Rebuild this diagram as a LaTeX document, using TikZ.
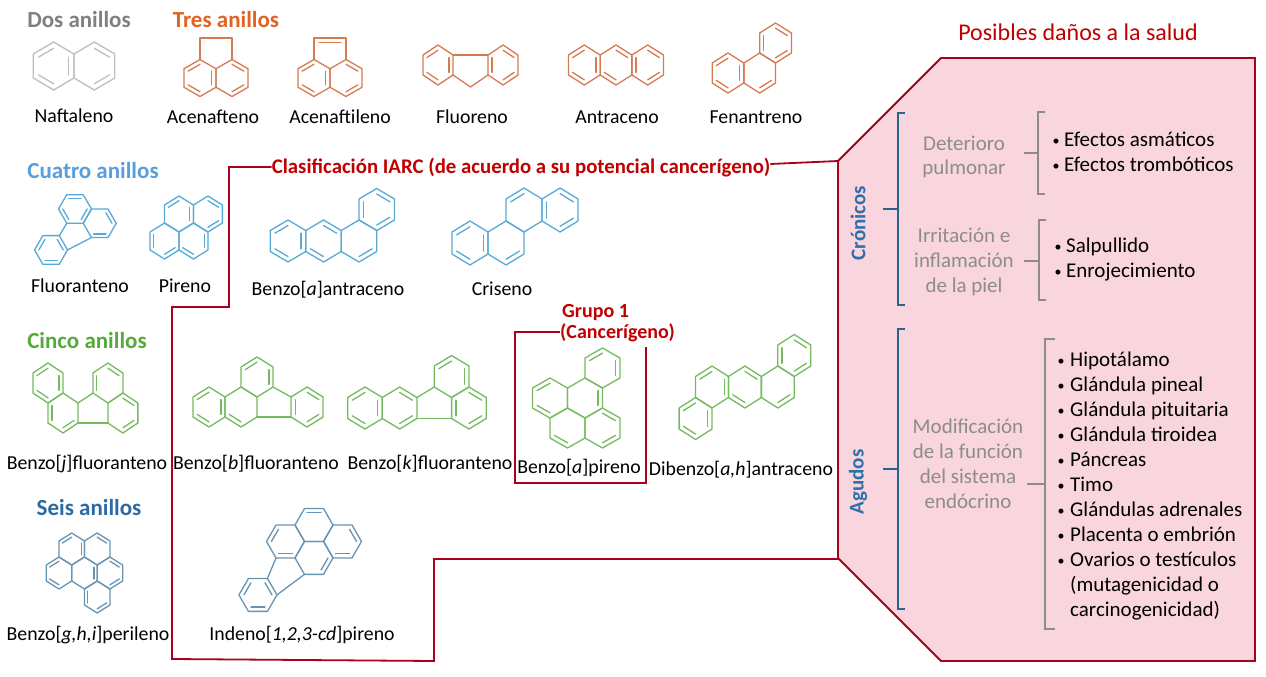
\documentclass[tikz,border=0pt]{standalone}
\usepackage{fontspec}
\setmainfont{Carlito}
\definecolor{cgray}{RGB}{190,190,190}
\definecolor{hgray}{RGB}{128,128,128}
\definecolor{corange}{RGB}{214,122,82}
\definecolor{horange}{RGB}{226,98,34}
\definecolor{cblue}{RGB}{88,170,214}
\definecolor{hblue}{RGB}{88,158,222}
\definecolor{cgreen}{RGB}{118,186,96}
\definecolor{hgreen}{RGB}{86,170,60}
\definecolor{csteel}{RGB}{104,148,180}
\definecolor{hsteel}{RGB}{44,106,164}
\definecolor{frame}{RGB}{170,0,30}
\definecolor{tred}{RGB}{192,0,0}
\definecolor{pinkc}{RGB}{249,214,222}
\definecolor{bblue}{RGB}{42,100,142}
\definecolor{tblue}{RGB}{46,112,172}
\definecolor{tgray}{RGB}{140,140,140}
\newcommand\hx[4]{%
  \draw[shift={(#1,#2)}] ({#3}:1) -- ({#3+60}:1) -- ({#3+120}:1) -- ({#3+180}:1) -- ({#3+240}:1) -- ({#3+300}:1) -- cycle;
  \foreach \e in {#4}{\draw[shift={(#1,#2)}] ({#3+60*\e}:0.74) -- ({#3+60*\e+60}:0.74);}}
\newcommand\hp[3]{\hx{{#1*0.866}}{{#2*1.5}}{30}{#3}}
\begin{document}
\begin{tikzpicture}[x=1pt,y=-1pt,
  mol/.style={line width=1.3pt,line join=round,line cap=round},
  lab/.style={font=\fontsize{19.8}{24}\selectfont,inner sep=0pt,anchor=base,text=black},
  hdr/.style={font=\fontsize{23}{27}\selectfont\bfseries,inner sep=0pt,anchor=base},
  frm/.style={draw=frame,line width=1.8pt},
  txt/.style={font=\fontsize{21}{25}\selectfont,inner sep=0pt},
  bul/.style={font=\fontsize{14}{16}\selectfont,inner sep=0pt,anchor=base},
  gtxt/.style={font=\fontsize{21}{25}\selectfont,inner sep=0pt,anchor=base,text=tgray},
  brb/.style={draw=bblue,line width=1.6pt},
  brg/.style={draw=tgray,line width=1.6pt}]
\fill[white] (0,0) rectangle (1266,677);
\useasboundingbox (0,0) rectangle (1266,677);

% ---------- headers ----------
\node[hdr,text=hgray] (h2) at (79,28) {Dos anillos};
\node[hdr,text=horange] (h3) at (226,28) {Tres anillos};
\node[hdr,text=hblue] (h4) at (93,178) {Cuatro anillos};
\node[hdr,text=hgreen] (h5) at (87,348) {Cinco anillos};
\node[hdr,text=hsteel] (h6) at (89,515) {Seis anillos};

% ---------- molecules ----------
% Naftaleno
\begin{scope}[shift={(74,66)},x=23.5pt,y=24pt,mol,color=cgray]
\hp{-1}{0}{1,3,5}\hp{1}{0}{0,4}
\end{scope}
% Acenafteno
\begin{scope}[shift={(216,78)},x=18.5pt,y=18.5pt,mol,color=corange]
\hp{-1}{0}{1,3,5}\hp{1}{0}{0,4}
\draw (-0.866,1) -- (-0.866,2.17) -- (0.866,2.17) -- (0.866,1);
\end{scope}
% Acenaftileno
\begin{scope}[shift={(330,78)},x=18.5pt,y=18.5pt,mol,color=corange]
\hp{-1}{0}{1,3,5}\hp{1}{0}{0,4}
\draw (-0.866,1) -- (-0.866,2.17) -- (0.866,2.17) -- (0.866,1);
\draw (-0.6,1.93) -- (0.6,1.93);
\end{scope}
% Fluoreno
\begin{scope}[shift={(438,65)},x=17.3pt,y=20pt,mol,color=corange]
\hp{0}{0}{1,3,5}\hx{3.76}{0}{30}{0,2,4}
\draw (0.866,0.5) -- (2.894,0.5);
\draw (0.866,-0.5) -- (1.88,-1.1) -- (2.894,-0.5);
\end{scope}
% Antraceno
\begin{scope}[shift={(616,65)},x=18.3pt,y=20pt,mol,color=corange]
\hp{-2}{0}{1,3,5}\hp{0}{0}{0,3}\hp{2}{0}{0,2,4}
\end{scope}
% Fenantreno
\begin{scope}[shift={(728,73)},x=18.3pt,y=20pt,mol,color=corange]
\hp{0}{0}{1,3,5}\hp{2}{0}{4}\hp{3}{1}{0,2,4}
\end{scope}
% Fluoranteno
\begin{scope}[shift={(75,209)},x=16.5pt,y=16.5pt,mol,color=cblue]
\hx{0}{0}{0}{1,3,5}\hx{1.5}{-0.866}{0}{0,4}\hx{-1.45}{-2.48}{0}{0,2,4}
\draw (-0.5,-0.866) -- (-0.95,-1.614);
\draw (1,-1.732) -- (-0.45,-2.48);
\end{scope}
% Pireno
\begin{scope}[shift={(179,214)},x=16.7pt,y=18pt,mol,color=cblue]
\hp{0}{0}{1,5}\hp{2}{0}{0,4}\hp{-1}{-1}{2,4}\hp{1}{-1}{3,5}
\end{scope}
% Benzo[a]antraceno
\begin{scope}[shift={(288,241)},x=20.5pt,y=21pt,mol,color=cblue]
\hp{0}{0}{1,3,5}\hp{2}{0}{0,3}\hp{4}{0}{4}\hp{5}{1}{0,2,4}
\end{scope}
% Criseno
\begin{scope}[shift={(470,243)},x=20.8pt,y=22pt,mol,color=cblue]
\hp{0}{0}{1,3,5}\hp{2}{0}{4}\hp{3}{1}{1}\hp{5}{1}{0,2,4}
\end{scope}
% Benzo[j]fluoranteno
\begin{scope}[shift={(48,383)},x=17.3pt,y=20pt,mol,color=cgreen]
\hp{0}{0}{1,3,5}\hp{1}{-1}{2,4}\hp{4}{0}{0,2}\hp{5}{-1}{0,4}
\draw (1.732,-1) -- (2.598,-0.5);
\draw (1.732,-2) -- (3.464,-2);
\end{scope}
% Benzo[b]fluoranteno
\begin{scope}[shift={(209,407)},x=18.5pt,y=20pt,mol,color=cgreen]
\hp{0}{0}{1,3,5}\hp{2}{0}{3}\hp{3}{1}{1,5}\hx{5.3}{0}{30}{0,2,4}
\draw (3.464,1) -- (4.434,0.5);
\draw (2.598,-0.5) -- (4.434,-0.5);
\end{scope}
% Benzo[k]fluoranteno
\begin{scope}[shift={(365,408)},x=20pt,y=21pt,mol,color=cgreen]
\hp{0}{0}{1,3,5}\hp{2}{0}{0,4}\hp{5}{1}{1,5}\hp{6}{0}{0,2,4}
\draw (2.598,0.5) -- (3.464,1);
\draw (2.598,-0.5) -- (4.33,-0.5);
\end{scope}
% Benzo[a]pireno
\begin{scope}[shift={(550,398)},x=20.2pt,y=20pt,mol,color=cgreen]
\hp{0}{0}{1,3}\hp{2}{0}{5}\hp{1}{-1}{3}\hp{3}{-1}{0,4}\hp{3}{1}{1,5}
\end{scope}
% Dibenzo[a,h]antraceno
\begin{scope}[shift={(712,387)},x=19pt,y=21pt,mol,color=cgreen]
\hp{0}{0}{1,5}\hp{2}{0}{0,3}\hp{4}{0}{4}\hp{5}{1}{0,2,4}\hp{-1}{-1}{1,3,5}
\end{scope}
% Benzo[g,h,i]perileno
\begin{scope}[shift={(59,573)},x=14.7pt,y=16pt,mol,color=csteel]
\hp{0}{0}{1,3}\hp{2}{0}{5}\hp{4}{0}{0,4}\hp{1}{1}{1,5}\hp{3}{1}{0}\hp{3}{-1}{2,4}
\end{scope}
% Indeno[1,2,3-cd]pireno
\begin{scope}[shift={(314,525)},x=19pt,y=19pt,mol,color=csteel]
\hx{0}{0}{0}{1}\hx{-1.5}{-0.866}{0}{2,4}\hx{1.5}{-0.866}{0}{0,4}\hx{0}{-1.732}{0}{5}\hx{-2.95}{-3.68}{0}{0,2,4}
\draw (-2,-1.732) -- (-2.45,-2.81);
\draw (-0.5,-2.598) -- (-1.95,-3.68);
\end{scope}

% ---------- labels ----------
\node[lab] (l1) at (74,122) {Naftaleno};
\node[lab] (l2) at (213,123) {Acenafteno};
\node[lab] (l3) at (340,123) {Acenaftileno};
\node[lab] (l4) at (472,123) {Fluoreno};
\node[lab] (l5) at (617,123) {Antraceno};
\node[lab] (l6) at (756,123) {Fenantreno};
\node[lab] (l7) at (80,292) {Fluoranteno};
\node[lab] (l8) at (185,292) {Pireno};
\node[lab] (l9) at (328,295) {Benzo[\textit{a}]antraceno};
\node[lab] (l10) at (502,295) {Criseno};
\node[lab] (l11) at (87,469) {Benzo[\textit{j}]fluoranteno};
\node[lab] (l12) at (256,469) {Benzo[\textit{b}]fluoranteno};
\node[lab] (l13) at (430,469) {Benzo[\textit{k}]fluoranteno};
\node[lab] (l14) at (579,473) {Benzo[\textit{a}]pireno};
\node[lab] (l15) at (741,475) {Dibenzo[\textit{a,h}]antraceno};
\node[lab] (l16) at (88,640) {Benzo[\textit{g,h,i}]perileno};
\node[lab] (l17) at (302,640) {Indeno[\textit{1,2,3-cd}]pireno};

% ---------- pink panel ----------
\draw[frm,fill=pinkc] (838,161) -- (941,58) -- (1255,58) -- (1255,661) -- (941,661) -- (838,558) -- cycle;
\node[font=\fontsize{24}{28}\selectfont,inner sep=0pt,anchor=base,text=tred] (pos) at (1078,41) {Posibles daños a la salud};

% ---------- IARC outline ----------
\node[font=\fontsize{20.8}{25}\selectfont\bfseries,inner sep=0pt,anchor=base,text=tred] (iarc) at (521,173) {Clasificación IARC (de acuerdo a su potencial cancerígeno)};
\draw[frm] (iarc.west |- 0,167) -- (229,167) -- (229,307) -- (172,307) -- (172,659) -- (434,661) -- (434,559) -- (838,559);
\draw[frm] (iarc.east |- 0,164) -- (838,161);

% Grupo 1 box
\node[font=\fontsize{20}{24}\selectfont\bfseries,inner sep=0pt,anchor=base west,text=tred] (g1) at (562,317) {Grupo 1};
\node[font=\fontsize{20}{24}\selectfont\bfseries,inner sep=0pt,anchor=base west,text=tred] (g2) at (560,338) {(Cancerígeno)};
\draw[frm] (g2.west |- 0,332) -- (515,332) -- (515,483) -- (646,483) -- (646,347);

% ---------- Crónicos ----------
\node[font=\fontsize{21}{25}\selectfont\bfseries,inner sep=0pt,text=tblue,rotate=90] (cro) at (858,223) {Crónicos};
\draw[brb] (905,113) -- (898,113) -- (898,305) -- (905,305);
\draw[brb] (883,209) -- (898,209);
\node[gtxt] (d1) at (964,150) {Deterioro};
\node[gtxt] (d2) at (964,174) {pulmonar};
\draw[brg] (1045,112) -- (1038,112) -- (1038,194) -- (1045,194);
\draw[brg] (1024,153) -- (1038,153);
\node[bul] (eb1) at (1056,145) {•};
\node[txt,anchor=base west] (e1) at (1064,146) {Efectos asmáticos};
\node[bul] (eb2) at (1056,170) {•};
\node[txt,anchor=base west] (e2) at (1064,171) {Efectos trombóticos};
\node[gtxt] (i1) at (964,242) {Irritación e};
\node[gtxt] (i2) at (964,267) {inflamación};
\node[gtxt] (i3) at (964,292) {de la piel};
\draw[brg] (1046,220) -- (1039,220) -- (1039,300) -- (1046,300);
\draw[brg] (1024,261) -- (1039,261);
\node[bul] (sb1) at (1058,251) {•};
\node[txt,anchor=base west] (s1) at (1066,252) {Salpullido};
\node[bul] (sb2) at (1058,276) {•};
\node[txt,anchor=base west] (s2) at (1066,277) {Enrojecimiento};

% ---------- Agudos ----------
\node[font=\fontsize{21}{25}\selectfont\bfseries,inner sep=0pt,text=tblue,rotate=90] (agu) at (858,482) {Agudos};
\draw[brb] (905,329) -- (898,329) -- (898,609) -- (905,609);
\draw[brb] (883,469) -- (898,469);
\node[gtxt] (m1) at (968,433) {Modificación};
\node[gtxt] (m2) at (968,458) {de la función};
\node[gtxt] (m3) at (968,483) {del sistema};
\node[gtxt] (m4) at (968,508) {endócrino};
\draw[brg] (1055,339) -- (1045,339) -- (1045,629) -- (1055,629);
\draw[brg] (1027,484) -- (1045,484);
\foreach \t [count=\k from 0] in {Hipotálamo,Glándula pineal,Glándula pituitaria,Glándula tiroidea,Páncreas,Timo,Glándulas adrenales,Placenta o embrión,Ovarios o testículos}{
  \node[bul] (b\k) at (1061,365+25*\k) {•};
  \node[txt,anchor=base west] (a\k) at (1070,366+25*\k) {\t};
}
\node[txt,anchor=base west] (a9) at (1070,591) {(mutagenicidad o};
\node[txt,anchor=base west] (a10) at (1070,616) {carcinogenicidad)};
\end{tikzpicture}
\end{document}
